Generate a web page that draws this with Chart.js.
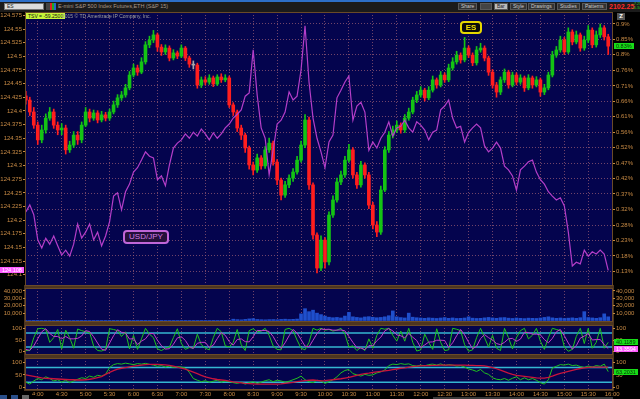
<!DOCTYPE html>
<html>
<head>
<meta charset="utf-8">
<title>ES vs USD/JPY</title>
<script src="https://cdn.jsdelivr.net/npm/chart.js@4.4.1/dist/chart.umd.min.js"></script>
<style>
  body { margin: 0; background: #000; width: 640px; height: 399px; overflow: hidden; position: relative; font-family: "Liberation Sans", Arial, sans-serif; }
  canvas { position: absolute; left: 0; }
  .abs { position: absolute; white-space: nowrap; }
  #topbar { left: 0; top: 0; width: 640px; height: 12px; background: #1b1b1b; border-top: 2px solid #2d6fc8; box-sizing: border-box; }
  #symbol { left: 4px; top: 3px; width: 40px; height: 7px; background: #dcdcdc; border: 1px solid #777; box-sizing: border-box; font-size: 5px; line-height: 5px; color: #222; padding-left: 2px; }
  #icons { left: 46px; top: 3px; width: 10px; height: 7px; background: linear-gradient(90deg, #444 0 40%, #d22 40% 60%, #2a2 60% 80%, #26c 80%); }
  #title { left: 58px; top: 3px; font-size: 5.5px; color: #a89888; line-height: 7px; }
  .btn { top: 3px; height: 7px; background: #333; border: 1px solid #585858; box-sizing: border-box; font-size: 5px; line-height: 5px; color: #ccc; padding: 0 2px; }
  #last { left: 609px; top: 2px; font-size: 7px; font-weight: bold; color: #ff2a2a; line-height: 9px; }
  #chg { left: 632px; top: 2px; font-size: 3.5px; color: #20d020; line-height: 4px; }
  #sep { left: 24px; top: 285px; width: 590px; height: 106px; background: #4d3520; }
  #tsv { left: 26px; top: 13px; height: 6px; padding: 0 2px; background: #c8f53a; color: #111; font-size: 5px; line-height: 6px; }
  #copy { left: 62px; top: 13px; font-size: 5px; color: #a0a0a0; line-height: 6px; }
  #esTag { left: 460px; top: 21px; width: 22px; height: 13px; background: #0a0a0a; border: 2px solid #e6d800; border-radius: 4px; box-sizing: border-box; color: #f0e000; font-size: 8px; font-weight: bold; text-align: center; line-height: 9px; }
  #jpyTag { left: 123px; top: 230px; width: 46px; height: 14px; background: #24103a; border: 2px solid #c066d8; border-radius: 4px; box-sizing: border-box; color: #d27ee6; font-size: 8px; text-align: center; line-height: 10px; }
  #zoomIcon { left: 617px; top: 13px; width: 8px; height: 7px; background: #555; color: #fff; font-size: 6px; line-height: 7px; text-align: center; font-weight: bold; }
  #tools { left: 0; top: 395px; width: 36px; height: 4px; background: linear-gradient(90deg, #2a4f8a 0 20%, #000 20% 30%, #2a4f8a 30% 50%, #000 50% 60%, #666 60% 80%, #000 80%); }
  #scroll { left: 433px; top: 397px; width: 180px; height: 2px; background: #3a3a3a; }
</style>
</head>
<body>
<div id="topbar" class="abs"></div>
<div id="symbol" class="abs">ES</div>
<div id="icons" class="abs"></div>
<div id="title" class="abs">E-mini S&amp;P 500 Index Futures,ETH (S&amp;P 15)</div>
<div class="abs btn" style="left:458px">Share</div>
<div class="abs btn" style="left:480px;width:12px;background:#444"></div>
<div class="abs btn" style="left:494px;background:#bbb;color:#222">Bar</div>
<div class="abs btn" style="left:510px">Style</div>
<div class="abs btn" style="left:528px">Drawings</div>
<div class="abs btn" style="left:557px">Studies</div>
<div class="abs btn" style="left:582px">Patterns</div>
<div id="last" class="abs">2102.25</div>
<div id="chg" class="abs">+7.25<br>+0.34</div>
<div id="sep" class="abs"></div>

<canvas id="mainChart" width="640" height="274" style="top:12px"></canvas>
<canvas id="volChart" width="640" height="34" style="top:288px"></canvas>
<canvas id="stochChart" width="640" height="30" style="top:325px"></canvas>
<canvas id="oscChart" width="640" height="41" style="top:358px"></canvas>

<div id="tsv" class="abs">TSV = -59.2500</div>
<div id="copy" class="abs">2015 © TD Ameritrade IP Company, Inc.</div>
<div id="esTag" class="abs">ES</div>
<div id="jpyTag" class="abs">USD/JPY</div>
<div id="zoomIcon" class="abs">Z</div>
<div id="tools" class="abs"></div>
<div id="scroll" class="abs"></div>

<script>
// 5-minute bars, minutes since midnight
const barStart = 225;
const barStep = 5;
const viewStart = 224;
const viewEnd = 961;

const timeLabels = ["4:00", "4:30", "5:00", "5:30", "6:00", "6:30", "7:00", "7:30", "8:00", "8:30", "9:00", "9:30",
  "10:00", "10:30", "11:00", "11:30", "12:00", "12:30", "13:00", "13:30", "14:00", "14:30", "15:00", "15:30", "16:00"];

// ES, % change (right axis)
const esFirstOpen = 0.676;
const esClose = [
  0.663, 0.626, 0.585, 0.539, 0.570, 0.607, 0.626, 0.585, 0.570, 0.576,
  0.508, 0.523, 0.554, 0.539, 0.585, 0.626, 0.607, 0.623, 0.601, 0.617,
  0.607, 0.626, 0.648, 0.670, 0.679, 0.701, 0.741, 0.763, 0.750, 0.782,
  0.835, 0.850, 0.866, 0.828, 0.813, 0.825, 0.794, 0.810, 0.800, 0.825,
  0.794, 0.775, 0.772, 0.710, 0.726, 0.719, 0.732, 0.713, 0.735, 0.726,
  0.732, 0.648, 0.626, 0.576, 0.554, 0.514, 0.461, 0.445, 0.483, 0.458,
  0.508, 0.529, 0.470, 0.414, 0.367, 0.399, 0.420, 0.439, 0.476, 0.523,
  0.601, 0.399, 0.243, 0.140, 0.227, 0.159, 0.305, 0.352, 0.408, 0.430,
  0.476, 0.508, 0.430, 0.399, 0.461, 0.430, 0.336, 0.274, 0.252, 0.383,
  0.508, 0.554, 0.570, 0.585, 0.570, 0.607, 0.626, 0.663, 0.679, 0.694,
  0.670, 0.694, 0.726, 0.710, 0.741, 0.726, 0.763, 0.782, 0.803, 0.788,
  0.825, 0.803, 0.779, 0.819, 0.825, 0.794, 0.750, 0.710, 0.688, 0.726,
  0.750, 0.710, 0.741, 0.719, 0.732, 0.701, 0.732, 0.710, 0.726, 0.688,
  0.701, 0.741, 0.803, 0.819, 0.850, 0.813, 0.875, 0.844, 0.866, 0.825,
  0.850, 0.881, 0.835, 0.866, 0.888, 0.860, 0.831
];
const esHigh = [
  0.690, 0.672, 0.640, 0.595, 0.585, 0.620, 0.640, 0.635, 0.595, 0.590,
  0.585, 0.535, 0.565, 0.565, 0.595, 0.640, 0.635, 0.632, 0.630, 0.628,
  0.625, 0.635, 0.660, 0.680, 0.690, 0.712, 0.752, 0.775, 0.772, 0.795,
  0.845, 0.862, 0.880, 0.872, 0.836, 0.835, 0.832, 0.820, 0.816, 0.835,
  0.830, 0.800, 0.785, 0.778, 0.735, 0.736, 0.742, 0.738, 0.742, 0.745,
  0.742, 0.738, 0.655, 0.632, 0.585, 0.560, 0.520, 0.470, 0.495, 0.490,
  0.518, 0.545, 0.535, 0.478, 0.420, 0.410, 0.430, 0.450, 0.488, 0.535,
  0.618, 0.610, 0.405, 0.250, 0.240, 0.235, 0.315, 0.365, 0.420, 0.442,
  0.488, 0.525, 0.515, 0.438, 0.472, 0.468, 0.438, 0.345, 0.285, 0.395,
  0.518, 0.565, 0.582, 0.598, 0.592, 0.618, 0.638, 0.672, 0.690, 0.705,
  0.700, 0.705, 0.738, 0.732, 0.752, 0.748, 0.775, 0.795, 0.815, 0.810,
  0.858, 0.832, 0.810, 0.830, 0.840, 0.832, 0.800, 0.758, 0.718, 0.735,
  0.760, 0.756, 0.750, 0.748, 0.742, 0.738, 0.742, 0.738, 0.736, 0.732,
  0.712, 0.750, 0.815, 0.830, 0.862, 0.858, 0.888, 0.882, 0.878, 0.872,
  0.862, 0.895, 0.888, 0.878, 0.900, 0.895, 0.868
];
const esLow = [
  0.650, 0.615, 0.575, 0.525, 0.530, 0.560, 0.600, 0.575, 0.555, 0.555,
  0.495, 0.500, 0.515, 0.525, 0.530, 0.580, 0.595, 0.600, 0.592, 0.595,
  0.598, 0.600, 0.620, 0.640, 0.662, 0.672, 0.695, 0.735, 0.740, 0.745,
  0.775, 0.826, 0.842, 0.815, 0.802, 0.805, 0.785, 0.788, 0.792, 0.795,
  0.786, 0.765, 0.760, 0.700, 0.702, 0.710, 0.712, 0.705, 0.708, 0.718,
  0.720, 0.640, 0.615, 0.565, 0.540, 0.500, 0.448, 0.430, 0.438, 0.448,
  0.450, 0.500, 0.460, 0.400, 0.352, 0.360, 0.390, 0.410, 0.432, 0.470,
  0.515, 0.385, 0.230, 0.125, 0.132, 0.140, 0.150, 0.298, 0.345, 0.400,
  0.422, 0.470, 0.420, 0.388, 0.392, 0.420, 0.325, 0.262, 0.238, 0.245,
  0.378, 0.500, 0.545, 0.562, 0.560, 0.562, 0.600, 0.620, 0.655, 0.672,
  0.660, 0.664, 0.688, 0.700, 0.704, 0.718, 0.720, 0.756, 0.775, 0.778,
  0.782, 0.795, 0.770, 0.772, 0.812, 0.785, 0.740, 0.700, 0.672, 0.680,
  0.718, 0.700, 0.704, 0.710, 0.712, 0.690, 0.695, 0.700, 0.704, 0.675,
  0.680, 0.695, 0.735, 0.796, 0.812, 0.805, 0.808, 0.835, 0.838, 0.815,
  0.818, 0.842, 0.826, 0.828, 0.858, 0.850, 0.805
];
const pctTickValues = [0.9, 0.852, 0.804, 0.756, 0.707, 0.659, 0.611, 0.563, 0.515, 0.467, 0.419, 0.371, 0.323, 0.274, 0.226, 0.178, 0.13];
const pctTickLabels = ["0.9%", "0.85%", "0.8%", "0.76%", "0.71%", "0.66%", "0.61%", "0.56%", "0.52%", "0.47%", "0.42%", "0.37%", "0.32%", "0.28%", "0.23%", "0.18%", "0.13%"];

// USD/JPY (left axis)
const usdJpy = [
  124.215, 124.228, 124.210, 124.164, 124.149, 124.167, 124.156, 124.171, 124.153, 124.136,
  124.145, 124.134, 124.156, 124.193, 124.167, 124.178, 124.193, 124.164, 124.178, 124.153,
  124.171, 124.197, 124.244, 124.250, 124.219, 124.252, 124.266, 124.288, 124.296, 124.310,
  124.325, 124.317, 124.314, 124.274, 124.281, 124.263, 124.301, 124.332, 124.341, 124.347,
  124.358, 124.350, 124.361, 124.354, 124.367, 124.358, 124.347, 124.360, 124.350, 124.358,
  124.369, 124.376, 124.387, 124.394, 124.402, 124.427, 124.433, 124.512, 124.429, 124.369,
  124.350, 124.283, 124.328, 124.376, 124.383, 124.398, 124.435, 124.420, 124.427, 124.475,
  124.556, 124.453, 124.387, 124.350, 124.325, 124.296, 124.343, 124.356, 124.424, 124.438,
  124.453, 124.464, 124.383, 124.409, 124.416, 124.398, 124.328, 124.343, 124.332, 124.350,
  124.361, 124.380, 124.354, 124.369, 124.372, 124.383, 124.369, 124.361, 124.380, 124.374,
  124.365, 124.347, 124.361, 124.365, 124.402, 124.409, 124.420, 124.387, 124.369, 124.372,
  124.343, 124.361, 124.369, 124.376, 124.369, 124.336, 124.325, 124.332, 124.343, 124.332,
  124.299, 124.292, 124.281, 124.255, 124.292, 124.299, 124.307, 124.310, 124.288, 124.274,
  124.266, 124.252, 124.244, 124.237, 124.241, 124.226, 124.178, 124.116, 124.123, 124.120,
  124.145, 124.134, 124.142, 124.138, 124.145, 124.138, 124.108
];
const jpyTickValues = [124.575, 124.55, 124.525, 124.5, 124.475, 124.45, 124.425, 124.4, 124.375, 124.35, 124.325,
  124.3, 124.275, 124.25, 124.225, 124.2, 124.175, 124.15, 124.125, 124.1];
const jpyTickLabels = ["124.575", "124.55", "124.525", "124.5", "124.475", "124.45", "124.425", "124.4", "124.375", "124.35",
  "124.325", "124.3", "124.275", "124.25", "124.225", "124.2", "124.175", "124.15", "124.125", "124.1"];

const volume = [
  200, 150, 300, 250, 180, 220, 160, 140, 260, 200, 180, 150, 170, 210, 190, 160, 140, 130, 150, 170,
  200, 240, 280, 300, 260, 220, 250, 300, 320, 260, 240, 200, 220, 260, 240, 200, 180, 190, 170, 210,
  220, 180, 160, 190, 200, 210, 180, 230, 200, 210, 250, 400,
  1800, 1200, 900, 1500, 2200, 2600, 1400, 1100, 900, 1200, 1300, 1000, 1500, 1800, 1400, 1600, 2000,
  9000, 16000, 12000, 14000, 10000, 8000, 6000,
  4500, 3800, 4200, 3500, 6000, 11000, 5000, 4200, 3600, 4800, 5200, 4400, 3800, 4200, 5000, 6500, 13000, 5000, 4000, 3500,
  10000, 4500, 3800, 3400, 3000, 3600, 3200, 2800, 3400, 4000, 3000, 3500, 2800, 3000, 3400, 5000, 3200, 2800, 3000, 3600,
  4200, 3500, 3000, 3800, 4000, 3200, 2800, 3400, 3000, 2600, 3200, 3000, 2800, 3400, 4200, 5000, 3600, 3000, 3400, 2800,
  3200, 3600, 3000, 3800, 12000, 4000, 3500, 3000, 3800, 9000, 5000
];
const volTickValues = [10000, 20000, 30000, 40000];
const volTickLabels = ["10,000", "20,000", "30,000", "40,000"];

const stochK = [
  5, 5, 60, 98, 100, 96, 40, 60, 95, 12, 92, 60, 15, 97, 90, 85, 82, 25, 5, 3,
  10, 98, 95, 90, 65, 85, 12, 70, 10, 55, 100, 75, 60, 12, 5, 15, 20, 60, 98, 35,
  10, 18, 15, 75, 30, 15, 8, 60, 100, 85, 25, 20, 40, 95, 30, 5, 90, 98, 85, 88,
  100, 70, 25, 10, 8, 95, 100, 90, 50, 15, 8, 40, 100, 92, 100, 92, 95, 88, 92, 100,
  75, 20, 25, 5, 18, 5, 55, 15, 70, 100, 96, 100, 70, 45, 88, 45, 100, 40, 3, 8,
  75, 40, 10, 98, 40, 5, 8, 100, 96, 90, 30, 2, 8, 60, 100, 60, 20, 70, 15, 5,
  100, 60, 12, 60, 90, 100, 55, 70, 100, 45, 10, 60, 100, 95, 90, 20, 2, 10, 65, 100,
  35, 100, 15, 40, 100, 15, 40.1189
];
const stochD = [
  10, 6, 25, 55, 85, 98, 78, 65, 65, 55, 65, 55, 55, 57, 67, 90, 86, 64, 37, 11,
  6, 37, 68, 94, 83, 80, 54, 56, 31, 45, 55, 77, 78, 49, 26, 11, 13, 32, 59, 64,
  48, 21, 14, 36, 40, 40, 18, 28, 56, 82, 70, 43, 28, 52, 55, 43, 42, 64, 91, 90,
  91, 86, 65, 35, 14, 38, 68, 95, 80, 52, 24, 21, 49, 77, 97, 95, 96, 92, 92, 93,
  89, 65, 40, 17, 16, 9, 26, 25, 47, 62, 89, 99, 89, 72, 68, 59, 78, 62, 48, 17,
  29, 41, 42, 49, 49, 48, 18, 38, 68, 95, 72, 41, 13, 23, 56, 73, 60, 50, 35, 30,
  40, 55, 57, 44, 54, 83, 82, 75, 75, 72, 52, 38, 57, 85, 95, 68, 37, 11, 26, 58,
  67, 78, 50, 52, 52, 30, 13.3594
];

const oscFast = [
  20, 12, 25, 35, 30, 42, 35, 25, 30, 20, 28, 18, 25, 32, 38, 35, 45, 40, 48, 45,
  52, 80, 92, 96, 94, 98, 95, 92, 96, 94, 97, 93, 90, 85, 88, 82, 86, 80, 84, 82,
  78, 60, 35, 28, 22, 26, 20, 24, 28, 20, 25, 22, 18, 15, 20, 12, 18, 22, 15, 20,
  26, 30, 22, 28, 25, 20, 24, 30, 36, 45, 30, 22, 18, 28, 25, 15, 22, 30, 42, 58,
  68, 72, 55, 50, 45, 52, 48, 50, 58, 62, 70, 88, 94, 92, 96, 93, 95, 88, 86, 90,
  87, 92, 94, 90, 95, 88, 92, 90, 86, 88, 82, 74, 70, 64, 72, 58, 52, 38, 32, 30,
  35, 28, 36, 42, 30, 38, 30, 35, 28, 18, 12, 30, 78, 85, 92, 90, 94, 88, 90, 84,
  80, 86, 82, 88, 85, 94, 63.2031
];
const oscSlow = [
  50, 47, 44, 41, 38, 36, 35, 34, 33, 32, 31, 30, 30, 29, 29, 30, 32, 35, 39, 43,
  52, 60, 67, 73, 77, 80, 83, 86, 88, 90, 92, 93, 93, 93, 92, 91, 89, 86, 82, 78,
  73, 67, 61, 55, 48, 42, 38, 34, 31, 29, 27, 24, 21, 19, 17, 15, 14, 13, 12, 12,
  12, 12, 12, 12, 13, 15, 17, 19, 22, 24, 26, 28, 29, 27, 25, 26, 28, 30, 32, 34,
  37, 40, 44, 48, 52, 55, 57, 60, 62, 64, 66, 68, 71, 74, 77, 79, 82, 84, 86, 87,
  88, 88, 89, 89, 90, 90, 90, 90, 90, 90, 90, 89, 89, 88, 88, 87, 84, 80, 75, 69,
  63, 57, 52, 48, 46, 44, 42, 40, 38, 37, 37, 40, 45, 51, 56, 60, 64, 68, 72, 76,
  79, 81, 82, 82, 82, 82, 82
];
const oscTickValues = [0, 50, 100];
const oscTickLabels = ["0", "50", "100"];
const levelLines = [80, 20];

// ---- styling ----
const FONT = { family: "Liberation Sans, Arial, sans-serif", size: 6 };
const AXIS_TXT = "#c98b45";
const NAVY = "#04044e";
const EDGE = "#6a4a28";
const GRID = "rgba(150,90,115,0.75)";

const times = esClose.map((_, i) => barStart + i * barStep);
const timeTickValues = timeLabels.map(l => { const [h, m] = l.split(":"); return +h * 60 + +m; });

const panelPlugin = {
  id: "panel",
  beforeDraw(chart) {
    const { ctx, chartArea: a } = chart;
    ctx.save();
    ctx.fillStyle = NAVY;
    ctx.fillRect(a.left, a.top, a.right - a.left, a.bottom - a.top);
    ctx.restore();
  },
  afterDraw(chart, args, opts) {
    const { ctx, chartArea: a } = chart;
    ctx.save();
    ctx.strokeStyle = EDGE;
    ctx.lineWidth = 1;
    ctx.strokeRect(a.left + 0.5, a.top + 0.5, a.right - a.left - 1, a.bottom - a.top - 1);
    // last-value flags on the axes
    ctx.font = "5.5px Liberation Sans, Arial, sans-serif";
    ctx.textBaseline = "middle";
    (opts.flags || []).forEach(f => {
      const s = chart.scales[f.axis];
      const y = Math.round(s.getPixelForValue(f.value));
      const w = Math.ceil(ctx.measureText(f.text).width) + 4;
      const x = s.position === "left" ? s.right - w - 1 : s.left + 1;
      ctx.fillStyle = f.bg;
      ctx.fillRect(x, y - 3, w, 6);
      ctx.fillStyle = f.fg;
      ctx.fillText(f.text, x + 2, y + 0.5);
    });
    ctx.restore();
  }
};

function timeAxis(showLabels) {
  return {
    type: "linear", min: viewStart, max: viewEnd, offset: false,
    afterBuildTicks: s => { s.ticks = timeTickValues.map(v => ({ value: v })); },
    afterFit: s => { s.height = showLabels ? 9 : 0; s.paddingLeft = 0; s.paddingRight = 0; },
    ticks: { display: showLabels, color: AXIS_TXT, font: FONT, padding: 1, maxRotation: 0, autoSkip: false,
      callback: (v, i) => timeLabels[i] },
    grid: { color: GRID, drawTicks: false, offset: false },
    border: { display: false, dash: [1, 2] }
  };
}

function valueAxis(position, min, max, values, labels, gridOn) {
  return {
    type: "linear", position, min, max, beginAtZero: false,
    afterBuildTicks: s => { s.ticks = values.map(v => ({ value: v })); },
    afterFit: s => { s.width = position === "left" ? 25 : 27; s.paddingTop = 0; s.paddingBottom = 0; },
    ticks: { color: AXIS_TXT, font: FONT, padding: 1, autoSkip: false, callback: (v, i) => labels[i] },
    grid: { drawOnChartArea: gridOn, color: GRID, drawTicks: true, tickLength: 2, tickColor: AXIS_TXT },
    border: { display: false, dash: [1, 2] }
  };
}

const baseOptions = (scales, flags) => ({
  responsive: false,
  animation: false,
  layout: { padding: 0 },
  scales,
  plugins: { legend: { display: false }, tooltip: { enabled: false }, panel: { flags } }
});

function line(data, color, axis, width) {
  return {
    type: "line", data: times.map((t, i) => ({ x: t, y: data[i] })), yAxisID: axis,
    borderColor: color, borderWidth: width || 1, pointRadius: 0, tension: 0, order: 0
  };
}

function level(value, axis) {
  return {
    type: "line", data: [{ x: viewStart, y: value }, { x: viewEnd, y: value }], yAxisID: axis,
    borderColor: "#35b6d2", borderWidth: 1.4, pointRadius: 0, order: 2
  };
}

// ---- main price panel ----
const candleOpen = esClose.map((c, i) => (i === 0 ? esFirstOpen : esClose[i - 1]));
const candleColor = i => {
  const o = candleOpen[i], c = esClose[i];
  if (Math.abs(c - o) < 0.006) return "#a8a8a8";
  return c > o ? "#14c414" : "#ff1e1e";
};

new Chart(document.getElementById("mainChart"), {
  type: "bar",
  data: {
    datasets: [
      line(usdJpy, "#b43ec8", "yL", 1.2),
      {
        type: "bar", data: esClose.map((c, i) => ({ x: times[i], y: [esLow[i], esHigh[i]] })),
        yAxisID: "yR", barThickness: 1, borderWidth: 0, grouped: false, order: 2,
        backgroundColor: ctx => candleColor(ctx.dataIndex)
      },
      {
        type: "bar", data: esClose.map((c, i) => ({ x: times[i], y: [candleOpen[i], c] })),
        yAxisID: "yR", barThickness: 3, borderWidth: 0, grouped: false, order: 1,
        backgroundColor: ctx => candleColor(ctx.dataIndex)
      }
    ]
  },
  options: baseOptions({
    x: timeAxis(false),
    yL: valueAxis("left", 124.0794, 124.5812, jpyTickValues, jpyTickLabels, false),
    yR: valueAxis("right", 0.0841, 0.9373, pctTickValues, pctTickLabels, true)
  }, [
    { axis: "yL", value: usdJpy[usdJpy.length - 1], text: usdJpy[usdJpy.length - 1].toFixed(3), bg: "#ff5cff", fg: "#fff" },
    { axis: "yR", value: esClose[esClose.length - 1], text: esClose[esClose.length - 1].toFixed(2) + "%", bg: "#18dc18", fg: "#063006" }
  ]),
  plugins: [panelPlugin]
});

// ---- volume panel ----
new Chart(document.getElementById("volChart"), {
  type: "bar",
  data: {
    datasets: [{
      type: "bar", data: times.map((t, i) => ({ x: t, y: volume[i] })), yAxisID: "yL",
      backgroundColor: "#1f4fcc", barThickness: 3, borderWidth: 0
    }, {
      type: "line", data: [], yAxisID: "yR"
    }]
  },
  options: baseOptions({
    x: timeAxis(false),
    yL: valueAxis("left", -2000, 44000, volTickValues, volTickLabels, false),
    yR: valueAxis("right", -2000, 44000, volTickValues, volTickLabels, false)
  }, []),
  plugins: [panelPlugin]
});

// ---- stochastic panel ----
new Chart(document.getElementById("stochChart"), {
  type: "line",
  data: {
    datasets: [
      line(stochD, "#c23cc8", "yL", 1),
      line(stochK, "#1fc21f", "yL", 1),
      ...levelLines.map(v => level(v, "yL")),
      { type: "line", data: [], yAxisID: "yR" }
    ]
  },
  options: baseOptions({
    x: timeAxis(false),
    yL: valueAxis("left", -14, 114, oscTickValues, oscTickLabels, false),
    yR: valueAxis("right", -14, 114, oscTickValues, oscTickLabels, false)
  }, [
    { axis: "yR", value: stochK[stochK.length - 1], text: stochK[stochK.length - 1].toFixed(4), bg: "#18dc18", fg: "#063006" },
    { axis: "yR", value: stochD[stochD.length - 1], text: stochD[stochD.length - 1].toFixed(4), bg: "#ff5cff", fg: "#fff" }
  ]),
  plugins: [panelPlugin]
});

// ---- slow oscillator panel ----
new Chart(document.getElementById("oscChart"), {
  type: "line",
  data: {
    datasets: [
      line(oscSlow, "#c8143c", "yL", 1.3),
      line(oscFast, "#1fc21f", "yL", 1),
      ...levelLines.map(v => level(v, "yL")),
      { type: "line", data: [], yAxisID: "yR" }
    ]
  },
  options: baseOptions({
    x: timeAxis(true),
    yL: valueAxis("left", -12, 119, oscTickValues, oscTickLabels, false),
    yR: valueAxis("right", -12, 119, oscTickValues, oscTickLabels, false)
  }, [
    { axis: "yR", value: oscFast[oscFast.length - 1], text: oscFast[oscFast.length - 1].toFixed(4), bg: "#18dc18", fg: "#063006" }
  ]),
  plugins: [panelPlugin]
});
</script>
</body>
</html>
